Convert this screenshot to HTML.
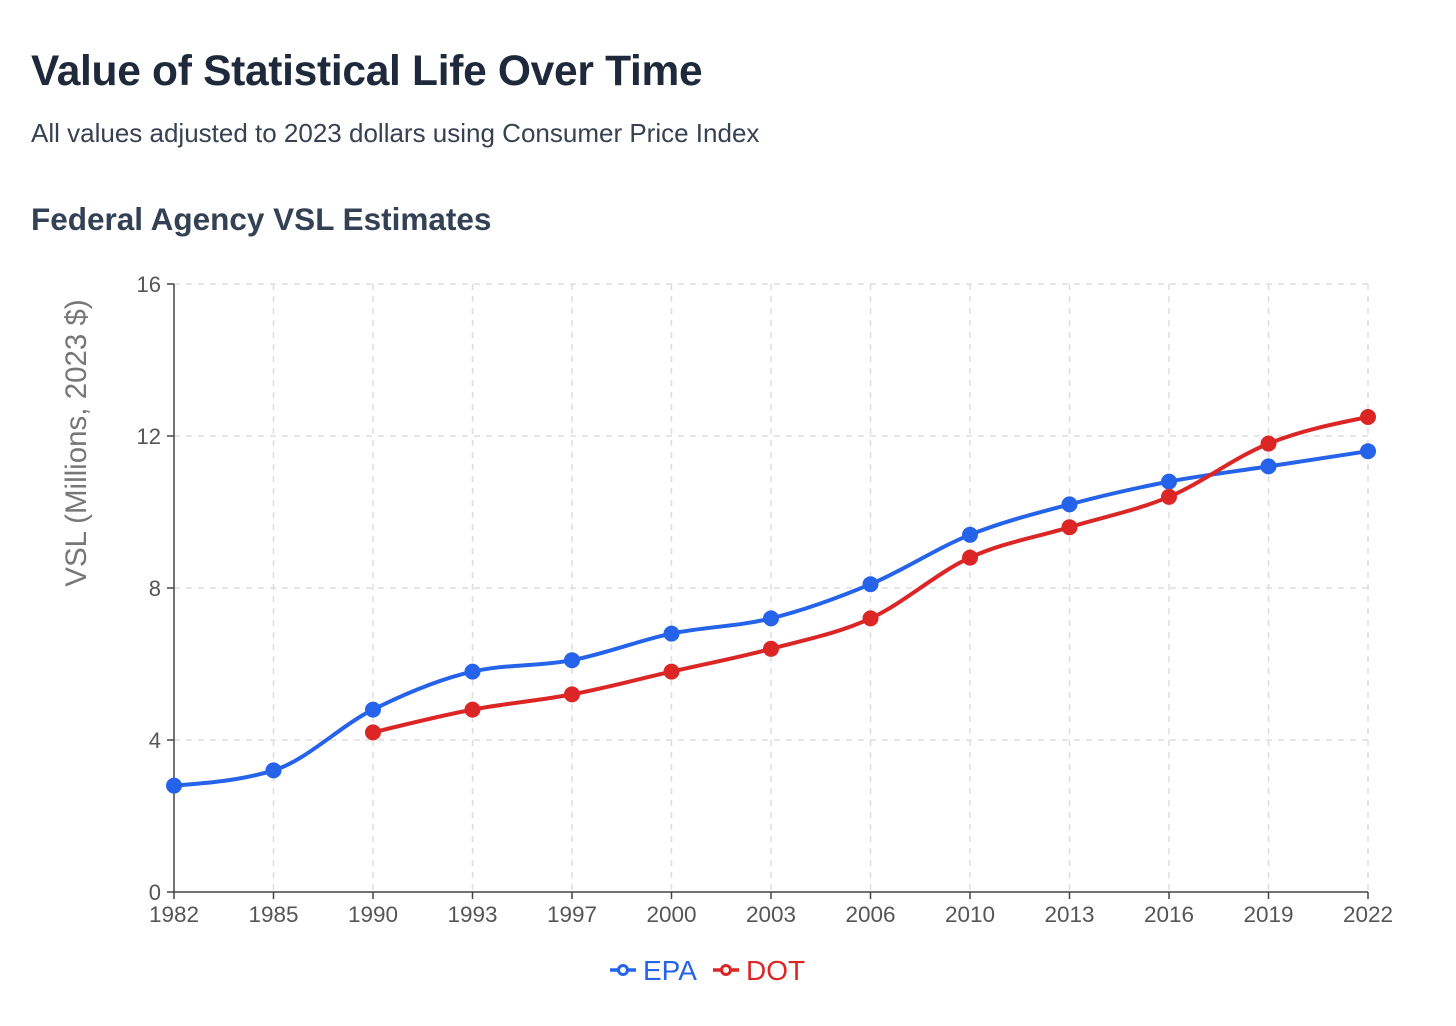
<!DOCTYPE html>
<html><head><meta charset="utf-8"><style>
body{margin:0;background:#fff;width:1456px;height:1026px;overflow:hidden;font-family:"Liberation Sans",sans-serif}
#t{position:absolute;left:31px;top:48px;font-size:42.5px;font-weight:bold;color:#1e293b;margin:0;letter-spacing:-0.3px}
#s{position:absolute;left:31px;top:118px;font-size:26px;color:#374151;margin:0}
#h{position:absolute;left:31px;top:201px;font-size:31.5px;font-weight:bold;color:#334155;margin:0}
svg{position:absolute;left:0;top:0}
</style></head><body>
<h1 id="t">Value of Statistical Life Over Time</h1>
<p id="s">All values adjusted to 2023 dollars using Consumer Price Index</p>
<h2 id="h">Federal Agency VSL Estimates</h2>
<svg id="c" width="1456" height="1026"></svg>
<script>
const years=["1982","1985","1990","1993","1997","2000","2003","2006","2010","2013","2016","2019","2022"];
const epa=[2.8,3.2,4.8,5.8,6.1,6.8,7.2,8.1,9.4,10.2,10.8,11.2,11.6];
const dot=[null,null,4.2,4.8,5.2,5.8,6.4,7.2,8.8,9.6,10.4,11.8,12.5];
const yTicks=[0,4,8,12,16];
const NS="http://www.w3.org/2000/svg",svg=document.getElementById('c');
const X0=174,X1=1368,Y0=892,Y1=284;
const x=i=>X0+i*(X1-X0)/(years.length-1), y=v=>Y0-(v/16)*(Y0-Y1);
function el(t,a,p){const e=document.createElementNS(NS,t);for(const k in a)e.setAttribute(k,a[k]);(p||svg).appendChild(e);return e;}
const g=el('g',{});


yTicks.forEach(v=>{if(v>0)el('line',{x1:X0,x2:X1,y1:y(v),y2:y(v),stroke:'#ddd','stroke-dasharray':'6 6','stroke-width':1.5},g);});
years.forEach((yr,i)=>{if(i>0)el('line',{x1:x(i),x2:x(i),y1:Y1,y2:Y0,stroke:'#ddd','stroke-dasharray':'6 6','stroke-width':1.5},g);});
const ax=el('g',{});


el('line',{x1:X0,x2:X0,y1:Y1,y2:Y0,stroke:'#444','stroke-width':1.5},ax);
el('line',{x1:X0,x2:X1,y1:Y0,y2:Y0,stroke:'#444','stroke-width':1.5},ax);
yTicks.forEach(v=>{el('line',{x1:X0-7,x2:X0,y1:y(v),y2:y(v),stroke:'#444','stroke-width':1.5},ax);
 const t=el('text',{x:X0-13,y:y(v)+8,'text-anchor':'end','font-size':22,fill:'#555'},ax);t.textContent=v;
 
 });
years.forEach((yr,i)=>{el('line',{x1:x(i),x2:x(i),y1:Y0,y2:Y0+7,stroke:'#444','stroke-width':1.5},ax);
 const t=el('text',{x:x(i),y:Y0+30,'text-anchor':'middle','font-size':22.5,fill:'#555'},ax);t.textContent=yr;
 
 });
const yl=el('text',{x:0,y:0,transform:'translate(86,443) rotate(-90)','text-anchor':'middle','font-size':29.5,fill:'#777'});
yl.textContent='VSL (Millions, 2023 $)';


function monotone(p){
 const n=p.length;if(n<2)return'';
 const d=[],m=[];for(let i=0;i<n-1;i++)d.push((p[i+1][1]-p[i][1])/(p[i+1][0]-p[i][0]));
 for(let i=0;i<n;i++){if(i==0)m.push(0);else if(i==n-1)m.push(0);else{
  if(d[i-1]*d[i]<=0)m.push(0);else{const h0=p[i][0]-p[i-1][0],h1=p[i+1][0]-p[i][0];
  const s=(d[i-1]*h1+d[i]*h0)/(h0+h1);m.push((Math.sign(d[i-1])+Math.sign(d[i]))*Math.min(Math.abs(d[i-1]),Math.abs(d[i]),0.5*Math.abs(s)));}}}
 m[0]=n>2?(3*d[0]-m[1])/2:d[0]; m[n-1]=n>2?(3*d[n-2]-m[n-2])/2:d[n-2];
 let s='M'+p[0][0]+','+p[0][1];
 for(let i=0;i<n-1;i++){const h=(p[i+1][0]-p[i][0])/3;
  s+=' C'+(p[i][0]+h)+','+(p[i][1]+m[i]*h)+' '+(p[i+1][0]-h)+','+(p[i+1][1]-m[i+1]*h)+' '+p[i+1][0]+','+p[i+1][1];}
 return s;}
function series(vals,col,name){
 const gg=el('g',{});
 
 
 const pts=[];vals.forEach((v,i)=>{if(v!=null)pts.push([x(i),y(v)]);});
 const pa=el('path',{d:monotone(pts),fill:'none',stroke:col,'stroke-width':4},gg);
 
 
 pts.forEach(q=>{const c=el('circle',{cx:q[0],cy:q[1],r:7.5,fill:col,stroke:col,'stroke-width':1},gg);
  
  });
}
series(epa,'#2563eb','epa');
series(dot,'#dc2626','dot');
function legend(lx,col,label,name){
 const gg=el('g',{});
 
 
 el('line',{x1:lx,x2:lx+26,y1:970,y2:970,stroke:col,'stroke-width':3.5},gg);
 el('circle',{cx:lx+13,cy:970,r:4.5,fill:'#fff',stroke:col,'stroke-width':3},gg);
 const t=el('text',{x:lx+33,y:980,'font-size':28,fill:col},gg);t.textContent=label;}
legend(610,'#2563eb','EPA','epa');
legend(713,'#dc2626','DOT','dot');
</script>
</body></html>
